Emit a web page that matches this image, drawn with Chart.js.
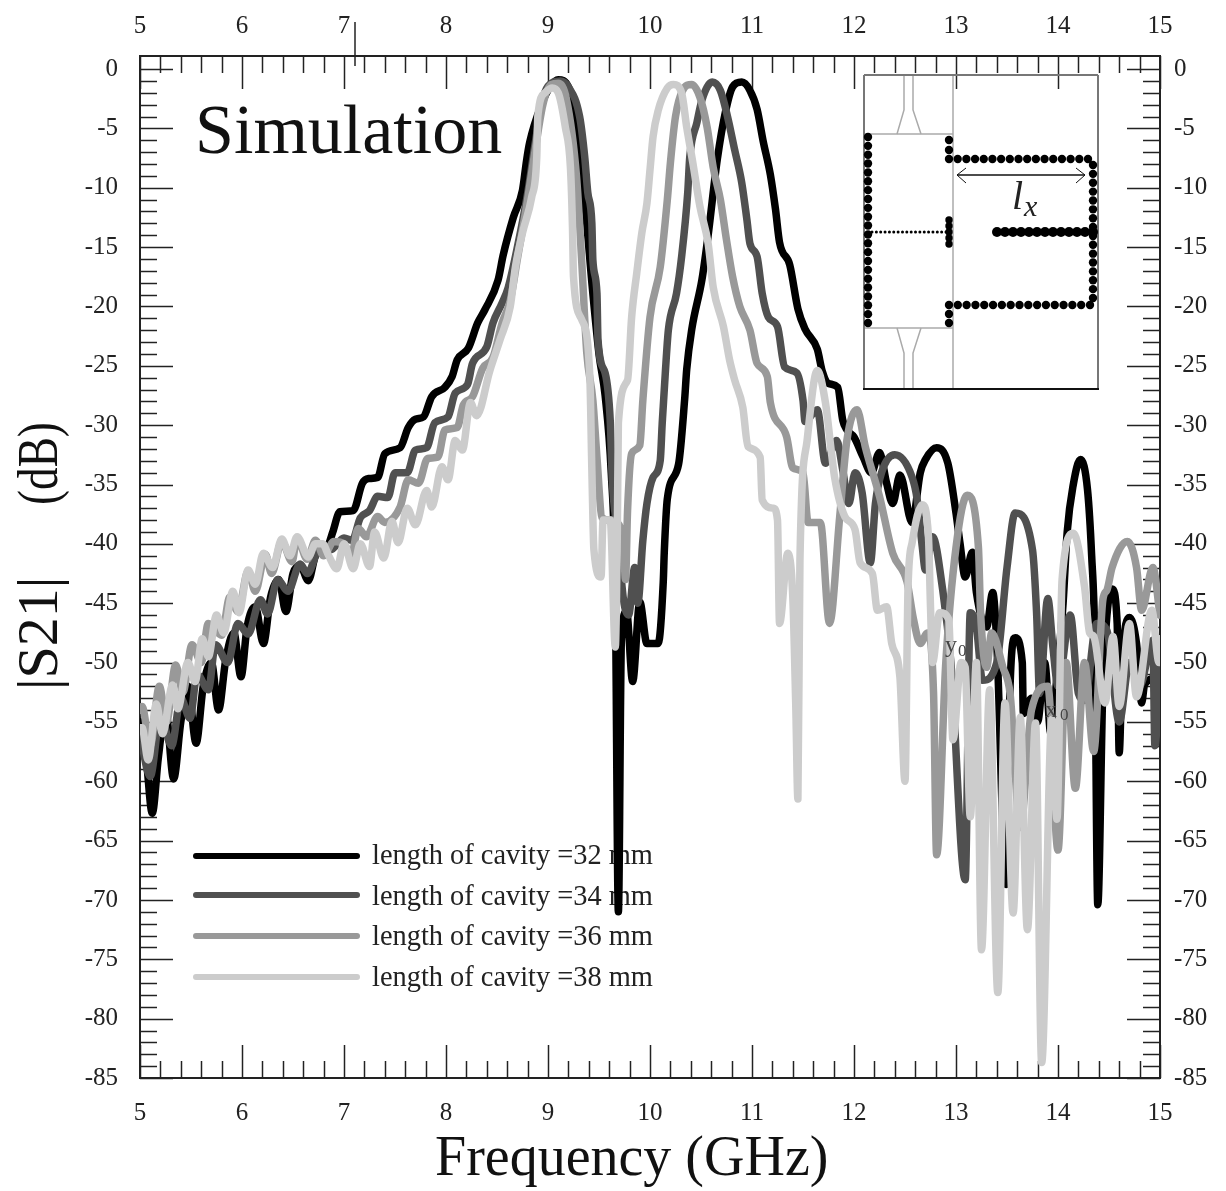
<!DOCTYPE html>
<html>
<head>
<meta charset="utf-8">
<title>Simulation S21</title>
<script src="https://cdn.jsdelivr.net/npm/chart.js@4"></script>
<style>
  html, body { margin: 0; padding: 0; background: #fff; }
  canvas { display: block; }
</style>
</head>
<body>
<canvas id="s21Chart" width="1226" height="1191"></canvas>
<script>
// values: frequency in GHz, |S21| in dB
const freq32 = [5.0,5.06,5.12,5.18,5.25,5.33,5.4,5.47,5.55,5.62,5.7,5.77,5.84,5.92,5.99,6.05,6.13,6.21,6.28,6.36,6.43,6.5,6.57,6.65,6.72,6.85,6.89,6.96,7.09,7.18,7.24,7.33,7.4,7.55,7.63,7.7,7.78,7.86,7.99,8.06,8.11,8.22,8.31,8.38,8.51,8.56,8.66,8.75,8.79,8.82,8.94,9.02,9.1,9.2,9.3,9.36,9.43,9.5,9.56,9.62,9.66,9.69,9.72,9.77,9.83,9.9,9.97,10.08,10.13,10.14,10.17,10.28,10.34,10.36,10.41,10.51,10.57,10.66,10.74,10.81,10.9,10.98,11.05,11.11,11.18,11.23,11.27,11.37,11.45,11.52,11.64,11.69,11.75,11.84,11.89,11.93,12.0,12.09,12.17,12.25,12.32,12.38,12.45,12.57,12.65,12.7,12.81,12.92,13.0,13.04,13.09,13.16,13.2,13.3,13.36,13.4,13.49,13.53,13.58,13.65,13.66,13.74,13.8,13.87,13.93,14.0,14.05,14.09,14.15,14.22,14.29,14.33,14.36,14.39,14.44,14.48,14.53,14.58,14.6,14.63,14.7,14.77,14.82,14.85,14.98,15.0];
const s21_32 = [-55,-58,-62.7,-58,-54,-59.8,-55,-52,-56.8,-52,-50,-54,-49.8,-47.5,-51.2,-47,-45.3,-48.4,-44.5,-43,-45.7,-42.5,-41.8,-43.1,-41,-40,-39,-37.3,-37.2,-34.9,-34.5,-34.4,-32.4,-31.9,-30.2,-29.5,-29.3,-27.6,-26.8,-25.9,-24.5,-23.5,-21.4,-20.3,-17.8,-15.7,-12.5,-10.2,-7.7,-6.2,-2.9,-1.5,-0.9,-1.5,-5.5,-11,-18,-24,-27.5,-34,-44,-71,-48,-45.7,-51.6,-44.9,-48.4,-48.4,-43.2,-40.7,-36.2,-33.3,-27.8,-25.3,-21.9,-17.7,-14,-7.6,-3.6,-1.5,-1.1,-1.8,-3.4,-6.1,-8.9,-11.8,-14.6,-16.5,-20.2,-21.9,-23.6,-25.5,-26.5,-26.8,-29.6,-30.4,-31,-32.7,-34,-32.3,-34.9,-36.6,-34.2,-38.2,-34,-32.9,-31.9,-33.2,-37.4,-40,-42.8,-40.7,-44.1,-47,-44.1,-48.4,-68.7,-52,-47.9,-50,-54.3,-53,-55,-50,-56,-50,-45,-39,-35,-32.9,-35.5,-41,-48,-70.4,-52,-46,-43.8,-46.7,-57.6,-50,-46.2,-48.4,-53.4,-51.8,-51.3,-52];

const freq34 = [5.0,5.1,5.2,5.31,5.4,5.49,5.56,5.67,5.74,5.86,5.96,6.06,6.18,6.25,6.35,6.45,6.57,6.64,6.76,6.87,7.0,7.08,7.16,7.25,7.33,7.43,7.5,7.62,7.7,7.81,7.89,8.02,8.09,8.21,8.26,8.4,8.46,8.55,8.61,8.7,8.8,8.87,8.95,9.05,9.12,9.2,9.31,9.36,9.39,9.43,9.44,9.48,9.49,9.56,9.61,9.63,9.68,9.74,9.79,9.85,9.88,9.93,9.97,10.03,10.1,10.12,10.15,10.18,10.26,10.31,10.37,10.39,10.46,10.51,10.61,10.69,10.76,10.83,10.9,10.95,10.98,11.05,11.1,11.16,11.25,11.32,11.44,11.5,11.52,11.64,11.72,11.83,11.89,11.95,12.01,12.08,12.16,12.21,12.27,12.4,12.57,12.62,12.67,12.7,12.77,12.87,12.95,13.09,13.14,13.2,13.26,13.4,13.5,13.58,13.75,13.79,13.82,13.9,13.95,14.0,14.12,14.2,14.26,14.38,14.48,14.6,14.7,14.8,14.93,14.95,15.0];
const s21_34 = [-56,-59.6,-54.5,-57,-53,-54.7,-51,-52.3,-48.5,-50,-46.7,-47.6,-44.7,-45.9,-43,-44,-41.7,-42.5,-40.5,-40.5,-39.5,-39.7,-37.8,-37.2,-36,-36.1,-34,-34,-32.1,-31.9,-29.8,-29.3,-27.3,-26.6,-24.8,-23.4,-21.4,-19.7,-18.4,-15,-10.5,-6.5,-2.5,-1.1,-1,-1.5,-4,-7.4,-10.4,-13,-16.1,-18.9,-22.8,-25.6,-29.6,-34.6,-39,-44.7,-46,-42,-45,-39.7,-36.6,-34.4,-33,-29.8,-25.6,-22,-18.9,-15.8,-10.4,-7.4,-4.5,-2.6,-1.1,-1.8,-4,-6.8,-9.6,-12.7,-14.7,-15.8,-18.9,-20.9,-21.7,-25.1,-25.6,-27.9,-29.7,-28.7,-33.2,-31.3,-33.8,-36.6,-34,-35.7,-41.6,-36.6,-34,-32.5,-34.4,-36.3,-40.3,-42.2,-39.4,-43.9,-50,-68.3,-45.8,-47,-51.5,-50,-42,-37.4,-40.5,-45.8,-52.6,-44.6,-48.7,-52,-46,-52.6,-53.2,-46.7,-47.3,-55,-50,-52,-48.1,-57,-50];

const freq36 = [5.0,5.02,5.1,5.19,5.26,5.35,5.42,5.51,5.6,5.67,5.8,5.88,5.96,6.06,6.13,6.23,6.29,6.39,6.49,6.54,6.64,6.72,6.8,6.9,7.0,7.07,7.14,7.22,7.33,7.4,7.55,7.63,7.73,7.82,7.92,7.99,8.11,8.17,8.26,8.36,8.46,8.55,8.63,8.7,8.8,8.88,8.95,9.03,9.1,9.18,9.28,9.33,9.38,9.44,9.48,9.53,9.6,9.68,9.74,9.76,9.78,9.82,9.9,9.93,10.0,10.1,10.17,10.2,10.25,10.32,10.41,10.49,10.56,10.62,10.69,10.75,10.81,10.88,10.98,11.05,11.15,11.18,11.34,11.4,11.5,11.55,11.67,11.76,11.86,11.93,12.03,12.11,12.25,12.38,12.52,12.58,12.65,12.72,12.78,12.81,12.9,13.0,13.11,13.22,13.24,13.3,13.35,13.46,13.53,13.63,13.74,13.9,14.0,14.08,14.17,14.26,14.35,14.44,14.48,14.53,14.68,14.77,14.82,14.93,15.0];
const s21_36 = [-54,-53.7,-57,-52,-55,-50.2,-52.5,-48.5,-50,-46.7,-47.7,-44.5,-45.7,-42.3,-44,-40.9,-42.5,-39.8,-41.5,-39.5,-41.3,-39.7,-41,-39.8,-40,-41,-38.7,-39.4,-37.7,-38.2,-36.9,-34.6,-34.9,-32.8,-32.7,-30.4,-30.2,-28.3,-27.6,-25.2,-24.3,-21.4,-19.5,-16,-11,-6.5,-3,-1.3,-1.2,-2.5,-9.1,-16.1,-23.9,-27.9,-32.7,-37.8,-38,-38.2,-40.3,-43,-37.2,-32.4,-31.7,-27.9,-20.9,-16.7,-11,-7.9,-4,-1.8,-1.3,-2.4,-4.9,-8.3,-11,-14.4,-17.5,-20,-22,-24.8,-25.9,-28.1,-31,-33.6,-34,-38.2,-38.2,-46.7,-37.7,-31.3,-28.7,-31.8,-36,-40.8,-43.2,-46.2,-48.4,-47.5,-52.6,-66.2,-50,-40.3,-35.9,-40.3,-45.6,-50.4,-47.5,-50.4,-52.6,-63.9,-54,-52,-65.8,-50,-60.6,-50,-57.5,-44.7,-43.9,-42,-39.8,-42,-45.6,-42,-46];

const freq38 = [5.0,5.02,5.08,5.16,5.22,5.32,5.37,5.47,5.54,5.61,5.67,5.75,5.82,5.91,5.97,6.06,6.13,6.21,6.3,6.39,6.47,6.54,6.65,6.72,6.79,6.85,6.93,7.0,7.09,7.16,7.25,7.3,7.39,7.47,7.53,7.62,7.7,7.81,7.86,7.96,8.02,8.09,8.16,8.24,8.3,8.43,8.53,8.63,8.68,8.75,8.84,8.89,8.9,8.97,9.04,9.1,9.17,9.22,9.24,9.25,9.33,9.41,9.43,9.45,9.52,9.54,9.61,9.66,9.68,9.69,9.78,9.82,9.87,9.92,9.97,10.0,10.03,10.08,10.17,10.23,10.31,10.36,10.42,10.49,10.57,10.62,10.72,10.78,10.83,10.91,10.96,11.08,11.1,11.21,11.25,11.27,11.35,11.4,11.43,11.45,11.47,11.54,11.64,11.72,11.78,11.81,11.91,12.01,12.06,12.18,12.23,12.32,12.37,12.45,12.5,12.53,12.57,12.67,12.73,12.75,12.77,12.84,12.93,12.97,13.05,13.09,13.14,13.2,13.25,13.33,13.41,13.48,13.56,13.63,13.7,13.78,13.84,13.94,13.99,14.04,14.15,14.26,14.31,14.35,14.46,14.54,14.6,14.7,14.77,14.92,14.99,15.0];
const s21_38 = [-55.5,-55.5,-58.2,-53.5,-56,-51.9,-53.9,-50,-51.6,-48,-49.5,-46,-47.5,-44,-45.8,-42.2,-43.4,-40.8,-42,-39.6,-41,-39.4,-41.1,-40,-40,-41,-42.1,-40,-42.1,-40,-41.9,-39,-41.2,-38.1,-39.9,-37,-38.4,-35.5,-36.9,-33.5,-34.6,-31.3,-32.1,-28.1,-29.2,-25.4,-22.8,-20,-16.7,-13.8,-10.8,-7.4,-4,-2,-1.6,-2,-4.9,-8.3,-13.3,-17.5,-21.1,-25.9,-33.8,-40.5,-42.8,-38,-38,-48.7,-38.8,-29.8,-26.2,-20.9,-17.2,-13.8,-11.3,-8.5,-5.7,-3.5,-1.6,-1.3,-2,-4.9,-7.9,-11.6,-14.7,-18.4,-21.7,-24.5,-26.2,-28.5,-31.8,-32.7,-36.3,-37,-38,-46.7,-40.8,-44.5,-54,-61.5,-41.4,-31.3,-25.4,-28.1,-32.4,-34.4,-37.7,-38.8,-41.6,-42.5,-45.6,-45.3,-48.4,-51.2,-60,-43.6,-39.9,-36.7,-39.4,-45.3,-50,-45.8,-46.4,-56.5,-50,-50.4,-63,-50,-74.2,-52.3,-77.8,-53.4,-71.1,-54.6,-72.5,-55.1,-83.7,-54.8,-63.2,-43,-39.1,-43.6,-47.5,-47.8,-53.4,-47.8,-53.7,-46.7,-52.9,-45.6,-50,-48];

const seriesLabels = ['length of cavity =32 mm', 'length of cavity =34 mm', 'length of cavity =36 mm', 'length of cavity =38 mm'];
const seriesColors = ['#000000', '#505050', '#999999', '#cccccc'];

const xTickValues = [5, 6, 7, 8, 9, 10, 11, 12, 13, 14, 15];
const yTickValues = [0, -5, -10, -15, -20, -25, -30, -35, -40, -45, -50, -55, -60, -65, -70, -75, -80, -85];

const serif = "'Liberation Serif', 'Times New Roman', serif";

function toPoints(xs, ys) {
  return xs.map(function (x, i) { return { x: x, y: ys[i] }; });
}

function line(ctx, x1, y1, x2, y2) {
  ctx.beginPath();
  ctx.moveTo(x1, y1);
  ctx.lineTo(x2, y2);
  ctx.stroke();
}

function dots(ctx, x1, y1, x2, y2, n, r) {
  for (let i = 0; i < n; i++) {
    const t = n > 1 ? i / (n - 1) : 0;
    ctx.beginPath();
    ctx.arc(x1 + (x2 - x1) * t, y1 + (y2 - y1) * t, r, 0, Math.PI * 2);
    ctx.fill();
  }
}

// the small cavity drawing in the top right corner
function drawInset(ctx) {
  ctx.save();
  ctx.strokeStyle = '#aaa';
  ctx.lineWidth = 1.5;
  line(ctx, 953, 75, 953, 389);
  line(ctx, 863, 134, 953, 134);
  line(ctx, 863, 328, 953, 328);
  ctx.beginPath();
  ctx.moveTo(904, 75); ctx.lineTo(904, 110); ctx.lineTo(897, 134);
  ctx.moveTo(913, 75); ctx.lineTo(913, 110); ctx.lineTo(921, 134);
  ctx.moveTo(904, 389); ctx.lineTo(904, 353); ctx.lineTo(897, 328);
  ctx.moveTo(913, 389); ctx.lineTo(913, 353); ctx.lineTo(921, 328);
  ctx.stroke();

  ctx.strokeStyle = '#777';
  ctx.lineWidth = 2;
  line(ctx, 864, 75, 1098, 75);
  line(ctx, 864, 75, 864, 389);
  line(ctx, 1098, 75, 1098, 389);
  ctx.strokeStyle = '#111';
  line(ctx, 863, 389, 1099, 389);

  ctx.fillStyle = '#000';
  dots(ctx, 868, 137, 868, 323, 22, 4.2);
  dots(ctx, 949, 140, 949, 150, 2, 4.2);
  dots(ctx, 949, 159, 1088, 159, 17, 4.2);
  dots(ctx, 1093, 165, 1093, 298, 16, 4.2);
  dots(ctx, 949, 305, 1090, 305, 17, 4.2);
  dots(ctx, 949, 314, 949, 323, 2, 4.2);
  dots(ctx, 872, 232, 946, 232, 18, 1.5);
  dots(ctx, 949, 220, 949, 244, 5, 3.7);
  dots(ctx, 997, 232, 1093, 232, 13, 5);

  ctx.strokeStyle = '#111';
  ctx.lineWidth = 1.5;
  line(ctx, 957, 175, 1085, 175);
  ctx.lineWidth = 1;
  ctx.beginPath();
  ctx.moveTo(966, 168); ctx.lineTo(957, 175); ctx.lineTo(966, 183);
  ctx.moveTo(1076, 168); ctx.lineTo(1085, 175); ctx.lineTo(1076, 183);
  ctx.stroke();

  ctx.fillStyle = '#222';
  ctx.textAlign = 'left';
  ctx.textBaseline = 'alphabetic';
  ctx.font = 'italic 40px ' + serif;
  ctx.fillText('l', 1012, 209);
  ctx.font = 'italic 30px ' + serif;
  ctx.fillText('x', 1024, 216);
  ctx.restore();
}

const backdropPlugin = {
  id: 'backdrop',
  beforeDatasetsDraw: function (chart) {
    const ctx = chart.ctx;
    const area = chart.chartArea;
    const sx = chart.scales.x;
    const sy = chart.scales.y;
    ctx.save();
    ctx.strokeStyle = '#222';
    ctx.lineWidth = 1.5;

    // inward ticks on all four sides
    for (let i = 0; i <= 50; i++) {
      const v = 5 + i * 0.2;
      const px = Math.round(sx.getPixelForValue(v)) + 0.5;
      const len = i % 5 === 0 ? 33 : 17;
      line(ctx, px, area.top, px, area.top + len);
      line(ctx, px, area.bottom, px, area.bottom - len);
    }
    for (let i = 0; i <= 85; i++) {
      const py = Math.round(sy.getPixelForValue(-i)) + 0.5;
      const len = i % 5 === 0 ? 33 : 17;
      line(ctx, area.left, py, area.left + len, py);
      line(ctx, area.right, py, area.right - len, py);
    }
    // stray long tick above the top axis
    line(ctx, 355, 22, 355, 66);

    drawInset(ctx);

    // titles
    ctx.fillStyle = '#111';
    ctx.textBaseline = 'alphabetic';
    ctx.textAlign = 'left';
    ctx.font = '70px ' + serif;
    ctx.fillText('Simulation', 195, 153);
    ctx.font = '56px ' + serif;
    ctx.fillText('Frequency (GHz)', 435, 1175);
    ctx.save();
    ctx.translate(57, 690);
    ctx.rotate(-Math.PI / 2);
    ctx.font = '58px ' + serif;
    ctx.fillText('|S21|', 0, 0);
    // (dB) is squeezed along its length in the picture
    ctx.translate(185, 0);
    ctx.scale(0.78, 1);
    ctx.fillText('(dB)', 0, 0);
    ctx.restore();

    // legend
    const rowY = [856, 895, 936, 977];
    const textY = [864, 905, 945, 986];
    ctx.lineCap = 'round';
    ctx.font = '28.4px ' + serif;
    for (let i = 0; i < seriesLabels.length; i++) {
      ctx.strokeStyle = seriesColors[i];
      ctx.lineWidth = 6;
      line(ctx, 196, rowY[i], 357, rowY[i]);
      ctx.fillStyle = '#222';
      ctx.fillText(seriesLabels[i], 372, textY[i]);
    }
    ctx.restore();
  },
  afterDatasetsDraw: function (chart) {
    const ctx = chart.ctx;
    ctx.save();
    ctx.fillStyle = '#444';
    ctx.textBaseline = 'alphabetic';
    ctx.font = '24px ' + serif;
    ctx.fillText('y', 945, 652);
    ctx.fillText('x', 1045, 717);
    ctx.font = '17px ' + serif;
    ctx.fillText('0', 958, 656);
    ctx.fillText('0', 1060, 720);
    ctx.restore();
  }
};

function makeDataset(i, xs, ys) {
  return {
    label: seriesLabels[i],
    data: toPoints(xs, ys),
    borderColor: seriesColors[i],
    borderWidth: 7.5,
    borderJoinStyle: 'round',
    borderCapStyle: 'round',
    pointRadius: 0,
    cubicInterpolationMode: 'monotone',
    order: 4 - i
  };
}

const tickFont = { family: serif, size: 25 };

function xAxis(position, size, pad) {
  return {
    type: 'linear',
    position: position,
    min: 5,
    max: 15,
    grid: { display: false, drawTicks: false },
    border: { display: true, color: '#222', width: 2 },
    afterBuildTicks: function (scale) {
      scale.ticks = xTickValues.map(function (v) { return { value: v }; });
    },
    afterFit: function (scale) { scale.height = size; },
    ticks: {
      autoSkip: false,
      maxRotation: 0,
      padding: pad,
      color: '#222',
      font: tickFont,
      callback: function (v) { return String(v); }
    }
  };
}

function yAxis(position, size, pad) {
  return {
    type: 'linear',
    position: position,
    min: -85,
    max: 1.1,
    grid: { display: false, drawTicks: false },
    border: { display: true, color: '#222', width: 2 },
    afterBuildTicks: function (scale) {
      scale.ticks = yTickValues.map(function (v) { return { value: v }; });
    },
    afterFit: function (scale) { scale.width = size; },
    ticks: {
      autoSkip: false,
      padding: pad,
      color: '#222',
      font: tickFont,
      callback: function (v) { return String(v); }
    }
  };
}

new Chart(document.getElementById('s21Chart').getContext('2d'), {
  type: 'line',
  data: {
    datasets: [
      makeDataset(0, freq32, s21_32),
      makeDataset(1, freq34, s21_34),
      makeDataset(2, freq36, s21_36),
      makeDataset(3, freq38, s21_38)
    ]
  },
  options: {
    responsive: false,
    animation: false,
    layout: { padding: 0, autoPadding: false },
    plugins: {
      legend: { display: false },
      title: { display: false },
      tooltip: { enabled: false }
    },
    scales: {
      x: xAxis('bottom', 113, 20),
      xTop: xAxis('top', 56, 15),
      y: yAxis('left', 140, 22),
      yRight: yAxis('right', 66, 14)
    }
  },
  plugins: [backdropPlugin]
});
</script>
</body>
</html>
